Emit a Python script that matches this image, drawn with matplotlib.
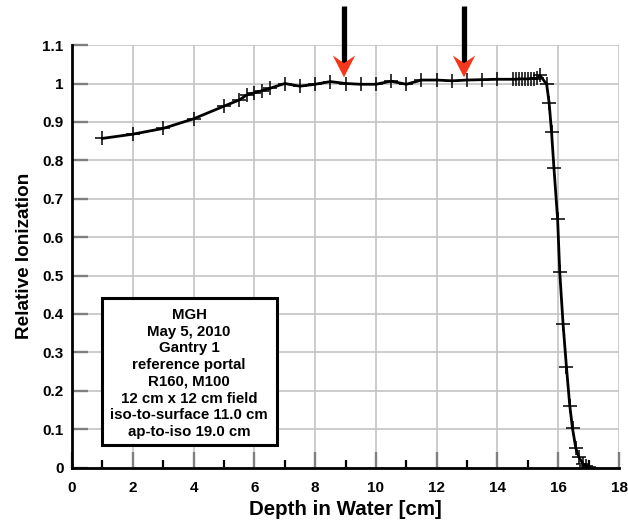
import matplotlib
matplotlib.use("Agg")
import matplotlib.pyplot as plt
from matplotlib.patches import Polygon, Rectangle
from matplotlib.ticker import MultipleLocator, FixedLocator

plt.rcParams['font.family'] = ['Liberation Sans', 'DejaVu Sans']
plt.rcParams['font.weight'] = 'bold'

# Depth-dose measurement (depth in cm, relative ionization)
depth = [1, 2, 3, 4, 5, 5.5, 5.75, 6, 6.25, 6.5, 7, 7.5, 8, 8.5, 9, 9.5, 10,
         10.5, 11, 11.5, 12, 12.5, 13, 13.5, 14,
         14.5, 14.6, 14.7, 14.8, 14.9, 15.0, 15.1, 15.2, 15.3, 15.4,
         15.62, 15.70, 15.78, 15.86, 15.98, 16.05, 16.16, 16.27, 16.38,
         16.47, 16.58, 16.68, 16.82, 16.93, 17.02]
ionization = [0.857, 0.868, 0.883, 0.908, 0.941, 0.957, 0.970, 0.976, 0.981,
              0.987, 1.000, 0.993, 0.998, 1.005, 1.000, 0.998, 0.998,
              1.006, 0.998, 1.009, 1.009, 1.007, 1.009, 1.010, 1.011,
              1.011, 1.011, 1.012, 1.012, 1.012, 1.012, 1.013, 1.013, 1.014, 1.021,
              0.998, 0.950, 0.874, 0.779, 0.647, 0.509, 0.373, 0.262, 0.161,
              0.102, 0.050, 0.027, 0.009, 0.005, 0.002]

x_ticks = [0, 2, 4, 6, 8, 10, 12, 14, 16, 18]
y_ticks = [0, 0.1, 0.2, 0.3, 0.4, 0.5, 0.6, 0.7, 0.8, 0.9, 1.0, 1.1]
y_tick_labels = ['0', '0.1', '0.2', '0.3', '0.4', '0.5', '0.6', '0.7',
                 '0.8', '0.9', '1', '1.1']

arrow_depths = [8.95, 12.9]

info_lines = ["MGH", "May 5, 2010", "Gantry 1", "reference portal",
              "R160, M100", "12 cm x 12 cm field",
              "iso-to-surface 11.0 cm", "ap-to-iso 19.0 cm"]

fig = plt.figure(figsize=(6.28, 5.21), dpi=100)
ax = fig.add_axes([72 / 628, 1 - 467.5 / 521, 547 / 628, 422.4 / 521])
ax.set_xlim(0, 18)
ax.set_ylim(0, 1.1)

ax.xaxis.set_major_locator(FixedLocator(x_ticks))
ax.xaxis.set_minor_locator(MultipleLocator(1))
ax.set_xticklabels([str(t) for t in x_ticks])
ax.yaxis.set_major_locator(FixedLocator(y_ticks))
ax.set_yticklabels(y_tick_labels)

ax.grid(True, which='major', color='#c4c4c4', linewidth=1.2, zorder=0)
ax.set_axisbelow(True)

for s in ('top', 'right'):
    ax.spines[s].set_visible(False)
for s in ('left', 'bottom'):
    ax.spines[s].set_linewidth(2.0)
    ax.spines[s].set_color('black')
    ax.spines[s].set_zorder(5)

ax.tick_params(axis='both', which='major', direction='in', length=11.5,
               width=1.7, color='#808080', labelsize=11)
ax.tick_params(axis='x', which='major', pad=10)
ax.tick_params(axis='y', which='major', pad=6)
ax.tick_params(axis='x', which='minor', direction='in', length=6,
               width=1.6, color='black')
ax.tick_params(axis='y', which='minor', left=False)
for lbl in ax.get_xticklabels() + ax.get_yticklabels():
    lbl.set_fontweight('bold')

ax.plot(depth, ionization, color='black', linewidth=2.0, marker='+',
        markersize=10, markeredgewidth=1.1, zorder=4)

ax.set_xlabel("Depth in Water [cm]", fontsize=14.8, fontweight='bold', labelpad=3)
ax.set_ylabel("Relative Ionization", fontsize=13.6, fontweight='bold', labelpad=7)

# Arrows marking the measurement depths
for xa in arrow_depths:
    ax.plot([xa, xa], [1.202, 1.05], color='black', linewidth=3.8,
            solid_capstyle='butt', clip_on=False, zorder=6)
    head = Polygon([[xa, 1.016], [xa + 0.37, 1.073], [xa, 1.053],
                    [xa - 0.37, 1.073]], closed=True, facecolor='#f4361a',
                   edgecolor='none', clip_on=False, zorder=7)
    ax.add_patch(head)

# Information box
ax.add_patch(Rectangle((0.98, 0.059), 5.75, 0.382, facecolor='white',
                       edgecolor='black', linewidth=2.2, zorder=6))
ax.text(3.85, 0.245, "\n".join(info_lines), ha='center', va='center',
        multialignment='center', fontsize=10.8, fontweight='bold',
        linespacing=1.25, zorder=7)

fig.savefig("out.png", dpi=100)
